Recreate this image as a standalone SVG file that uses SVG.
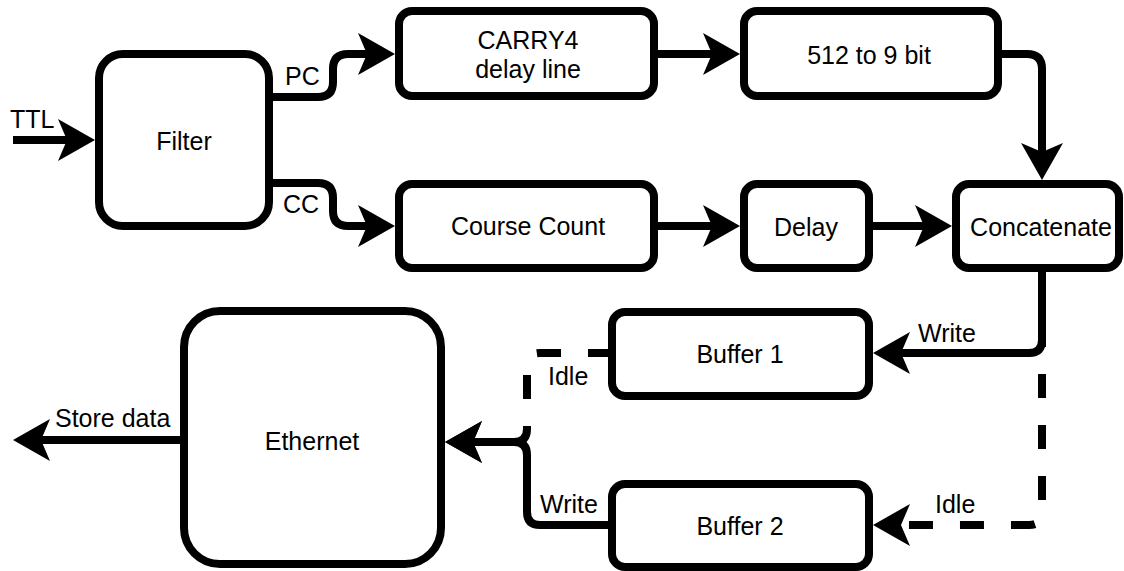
<svg xmlns="http://www.w3.org/2000/svg" width="1124" height="571" viewBox="0 0 1124 571">
<style>
  .box { fill: #ffffff; stroke: #000000; stroke-width: 8; }
  .lbl { font-family: "Liberation Sans", Arial, Helvetica, sans-serif; font-size: 25px; fill: #000000; }
  .c { text-anchor: middle; }
  .edge { fill: none; stroke: #000000; stroke-width: 8; marker-end: url(#arr); }
  .dash { stroke-dasharray: 24 27; }
</style>
<defs>
  <marker id="arr" markerUnits="userSpaceOnUse" markerWidth="40" markerHeight="44" viewBox="0 0 40 44" refX="9" refY="22" orient="auto" overflow="visible">
    <path d="M0,1 L37,22 L0,43 L9,22 Z" fill="#000000"/>
  </marker>
</defs>

<g id="connectors">
  <path class="edge" d="M13,140 L67,140"/>
  <path class="edge" d="M273,97 L318,97 Q333,97 333,82 L333,69 Q333,54 348,54 L367,54"/>
  <path class="edge" d="M273,183 L318,183 Q333,183 333,198 L333,211 Q333,226 348,226 L367,226"/>
  <path class="edge" d="M658,54 L712,54"/>
  <path class="edge" d="M1002,54 L1027,54 Q1042,54 1042,69 L1042,152"/>
  <path class="edge" d="M658,226 L712,226"/>
  <path class="edge" d="M873,226 L924,226"/>
  <path class="edge" d="M1042,272 L1042,340 Q1042,353 1029,353 L901,353"/>
  <path class="edge dash" d="M1042,272 L1042,512 Q1042,525 1029,525 L901,525"/>
  <path class="edge dash" d="M612,353 L540,353 Q527,353 527,366 L527,429 Q527,442 514,442 L473,442"/>
  <path class="edge" d="M612,525 L540,525 Q527,525 527,512 L527,455 Q527,442 514,442 L473,442"/>
  <path class="edge" d="M180,440 L41,440"/>
  <text class="lbl" x="10" y="128">TTL</text>
  <text class="lbl" x="285" y="85">PC</text>
  <text class="lbl" x="283" y="213">CC</text>
  <text class="lbl" x="918" y="342">Write</text>
  <text class="lbl" x="935" y="513">Idle</text>
  <text class="lbl" x="548" y="385">Idle</text>
  <text class="lbl" x="540" y="513">Write</text>
  <text class="lbl" x="55" y="427">Store data</text>
</g>

<g id="filter">
  <rect class="box" x="99" y="54" width="170" height="172" rx="24" ry="24"/>
  <text class="lbl c" x="184" y="150">Filter</text>
</g>
<g id="carry4">
  <rect class="box" x="399" y="11" width="255" height="85" rx="13" ry="13"/>
  <text class="lbl c" x="528" y="49">CARRY4</text>
  <text class="lbl c" x="528" y="78">delay line</text>
</g>
<g id="bit512">
  <rect class="box" x="744" y="11" width="254" height="85" rx="13" ry="13"/>
  <text class="lbl c" x="869" y="64">512 to 9 bit</text>
</g>
<g id="coursecount">
  <rect class="box" x="399" y="184" width="255" height="84" rx="13" ry="13"/>
  <text class="lbl c" x="528" y="235">Course Count</text>
</g>
<g id="delay">
  <rect class="box" x="744" y="184" width="125" height="84" rx="13" ry="13"/>
  <text class="lbl c" x="806" y="236">Delay</text>
</g>
<g id="concatenate">
  <rect class="box" x="956" y="184" width="163" height="84" rx="13" ry="13"/>
  <text class="lbl c" x="1041" y="236">Concatenate</text>
</g>
<g id="buffer1">
  <rect class="box" x="612" y="312" width="257" height="84" rx="13" ry="13"/>
  <text class="lbl c" x="740" y="363">Buffer 1</text>
</g>
<g id="buffer2">
  <rect class="box" x="612" y="484" width="257" height="83" rx="13" ry="13"/>
  <text class="lbl c" x="740" y="535">Buffer 2</text>
</g>
<g id="ethernet">
  <rect class="box" x="184" y="311" width="257" height="253" rx="36" ry="36"/>
  <text class="lbl c" x="312" y="450">Ethernet</text>
</g>
</svg>
